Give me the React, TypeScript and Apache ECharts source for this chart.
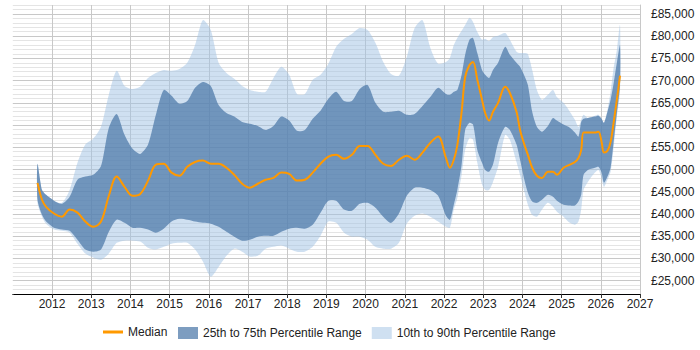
import React, { useEffect, useRef } from 'react';
import * as echarts from 'echarts';

const years = [2011.63, 2011.745, 2011.85, 2012.05, 2012.25, 2012.45, 2012.65, 2012.85, 2013.05, 2013.25, 2013.45, 2013.65, 2013.85, 2014.05, 2014.25, 2014.45, 2014.65, 2014.85, 2015.05, 2015.25, 2015.45, 2015.65, 2015.85, 2016.05, 2016.25, 2016.45, 2016.65, 2016.85, 2017.05, 2017.25, 2017.45, 2017.65, 2017.85, 2018.05, 2018.25, 2018.45, 2018.65, 2018.85, 2019.05, 2019.25, 2019.45, 2019.65, 2019.85, 2020.05, 2020.25, 2020.45, 2020.65, 2020.85, 2021.05, 2021.25, 2021.45, 2021.65, 2021.85, 2022.05, 2022.15, 2022.25, 2022.34, 2022.45, 2022.54, 2022.65, 2022.74, 2022.85, 2022.97, 2023.05, 2023.15, 2023.25, 2023.38, 2023.56, 2023.68, 2023.85, 2023.94, 2024.05, 2024.14, 2024.25, 2024.37, 2024.5, 2024.65, 2024.78, 2024.88, 2025.05, 2025.21, 2025.34, 2025.43, 2025.5, 2025.56, 2025.67, 2025.85, 2025.94, 2026.02, 2026.08, 2026.17, 2026.25, 2026.32, 2026.41, 2026.49];

const p90 = [51300, 45400, 44300, 43000, 42500, 45400, 51500, 55600, 56900, 59600, 66800, 72200, 68800, 68100, 68600, 70600, 71700, 72400, 72200, 72600, 74000, 78000, 83600, 81400, 74000, 71700, 70400, 68800, 67900, 67500, 67500, 70600, 73100, 71300, 67000, 67000, 70200, 71300, 73800, 77600, 79400, 80500, 81800, 81400, 78500, 74200, 71500, 71100, 75300, 81800, 83600, 77400, 73800, 74200, 75100, 78000, 79600, 81200, 82500, 84100, 83200, 80900, 79200, 79400, 78900, 79800, 80100, 80700, 79200, 76500, 76200, 76200, 76000, 72400, 67900, 65700, 66800, 67900, 66300, 65000, 63000, 61200, 59600, 61200, 62300, 61600, 62100, 62300, 61400, 60500, 63400, 67500, 72400, 76900, 82500];

const p75 = [51300, 45400, 44300, 43000, 42300, 43900, 47700, 48400, 48800, 50800, 59400, 62500, 57800, 54700, 53500, 55600, 62300, 67900, 66600, 64800, 65400, 68400, 69700, 68800, 64500, 62700, 61900, 60700, 60300, 59800, 58900, 59800, 61900, 61000, 58700, 58900, 61400, 63200, 65900, 67500, 65400, 65400, 68100, 69000, 65000, 63000, 63000, 63200, 62300, 62500, 64300, 66300, 68400, 67000, 66800, 67500, 67900, 71300, 75800, 79200, 79600, 76200, 72400, 71300, 70600, 72400, 74000, 77600, 75800, 74000, 73100, 71100, 69000, 63000, 59600, 58500, 59800, 61600, 61000, 60100, 59400, 58300, 57400, 60700, 61400, 61600, 61900, 62100, 61400, 60500, 63000, 65700, 69000, 74000, 78000];

const median = [47000, 43200, 41600, 40100, 39400, 41000, 40300, 38300, 37100, 38300, 44100, 48400, 46100, 44100, 44500, 47500, 51100, 51300, 49300, 48600, 50600, 51700, 52000, 51300, 51300, 50400, 48800, 46800, 45900, 46800, 47700, 48100, 49300, 49000, 47500, 47700, 49300, 51300, 52900, 53300, 52400, 53300, 55300, 55300, 53300, 51300, 50800, 52200, 53100, 52200, 53800, 56000, 57400, 52600, 50400, 52200, 55500, 63000, 70800, 73500, 74200, 70200, 65700, 62700, 61000, 63000, 65000, 68600, 67200, 63000, 58900, 55600, 53300, 50400, 48600, 48100, 49500, 49500, 48800, 50400, 51100, 51700, 52600, 54400, 58300, 58300, 58300, 58500, 56200, 53800, 54200, 56200, 60100, 65700, 71100];

const p25 = [43200, 39800, 38300, 36900, 36500, 36200, 34200, 32000, 31500, 32000, 36000, 38700, 38000, 36900, 36900, 36500, 35800, 36700, 38300, 38900, 38700, 38300, 38000, 37800, 37100, 36000, 34900, 34000, 34200, 34900, 35100, 35100, 36000, 36700, 36900, 36700, 37600, 40300, 43000, 43000, 41000, 40700, 42300, 42500, 41400, 39400, 38000, 40100, 44100, 45900, 45900, 45400, 44100, 39600, 38700, 42100, 45400, 51100, 58900, 60500, 60100, 54400, 51500, 49900, 49500, 51100, 56000, 59600, 58900, 55600, 52200, 47700, 44800, 42800, 42500, 43200, 44300, 43900, 43000, 42100, 41900, 41900, 42800, 44300, 48800, 49900, 50400, 50600, 49300, 47000, 48400, 50400, 55600, 62700, 69000];

const p10 = [42500, 39400, 37800, 36500, 36200, 35800, 33300, 31100, 30200, 29700, 31100, 33500, 34000, 34000, 33800, 32400, 32000, 32600, 33300, 33500, 33500, 32000, 29300, 25900, 28100, 30600, 32200, 31500, 30400, 30600, 32200, 32600, 32900, 32200, 31500, 31500, 32600, 35100, 38300, 38000, 35800, 34900, 34900, 34200, 32600, 32200, 32200, 33500, 37800, 39600, 40100, 39400, 38300, 37100, 36900, 41000, 43600, 48800, 54400, 57100, 56700, 51500, 46600, 45400, 45400, 47200, 50600, 57800, 56700, 51700, 48800, 45000, 42100, 39800, 39400, 41000, 42500, 41600, 40500, 39400, 38000, 37600, 38300, 41000, 45400, 47200, 49300, 49900, 48100, 46100, 47700, 49500, 54400, 61900, 67500];

const yearTicks = [2011, 2012, 2013, 2014, 2015, 2016, 2017, 2018, 2019, 2020, 2021, 2022, 2023, 2024, 2025, 2026, 2027];

const NAME_MED = 'Median';
const NAME_IQR = '25th to 75th Percentile Range';
const NAME_OUT = '10th to 90th Percentile Range';

const FONT = 'Liberation Sans, Arial, sans-serif';
const COLOR_OUT = 'rgba(160,194,228,0.5)';
const COLOR_IQR = 'rgba(75,119,168,0.72)';
const COLOR_MED = '#ff9900';

function money(v: number): string {
  return '£' + String(v).replace(/\B(?=(\d{3})+(?!\d))/g, ',');
}

function bandSeries(name: string, hi: number[], lo: number[], color: string) {
  return {
    name,
    type: 'custom',
    silent: true,
    itemStyle: { color },
    data: [[years[0], lo[0]]],
    renderItem: (_params: any, api: any) => {
      const upper = years.map((y, i) => api.coord([y, hi[i]]));
      const lower = years.map((y, i) => api.coord([y, lo[i]])).reverse();
      return {
        type: 'polygon',
        shape: { points: upper.concat(lower), smooth: 0.25 },
        style: { fill: color },
        silent: true,
      };
    },
  };
}

export default function App() {
  const ref = useRef<HTMLDivElement>(null);

  useEffect(() => {
    if (!ref.current) return;
    const chart = echarts.init(ref.current, undefined, { renderer: 'svg' });

    const xLineColors = yearTicks.map((_y, i) => (i === 0 ? 'rgba(0,0,0,0)' : '#c8c8c8'));
    const minor = '#e4e4e4';
    const major = '#c8c8c8';
    const legendText = { fontSize: 12, color: '#222', fontFamily: FONT };

    chart.setOption({
      animation: false,
      grid: { left: 12.8, right: 60, top: 5, bottom: 56, containLabel: false },
      legend: [
        {
          left: 103,
          top: 326,
          padding: 0,
          itemWidth: 20,
          itemHeight: 3,
          icon: 'rect',
          textStyle: legendText,
          data: [{ name: NAME_MED, icon: 'rect', itemStyle: { color: COLOR_MED } }],
        },
        {
          left: 178,
          top: 327,
          padding: 0,
          itemWidth: 20,
          itemHeight: 12,
          itemGap: 10,
          textStyle: legendText,
          data: [
            { name: NAME_IQR, icon: 'rect' },
            { name: NAME_OUT, icon: 'rect' },
          ],
        },
      ],
      graphic: [
        { type: 'rect', left: 10, top: 295, shape: { width: 4, height: 6 }, style: { fill: '#fff' }, silent: true, z: 100 },
      ],
      xAxis: {
        type: 'value',
        min: 2011,
        max: 2027,
        interval: 1,
        axisLine: { show: true, onZero: false, lineStyle: { color: '#000', width: 1 } },
        axisTick: { show: true, length: 4, lineStyle: { color: '#333' } },
        axisLabel: {
          margin: 4,
          fontSize: 12,
          color: '#222',
          fontFamily: FONT,
          formatter: (v: number) => (v === 2011 ? '' : String(v)),
        },
        splitLine: { show: true, lineStyle: { color: xLineColors, width: 1 } },
      },
      yAxis: {
        type: 'value',
        position: 'right',
        min: 22000,
        max: 87000,
        interval: 1000,
        axisLine: { show: true, lineStyle: { color: '#c8c8c8' } },
        axisTick: { show: false },
        axisLabel: {
          margin: 11,
          fontSize: 12,
          color: '#222',
          fontFamily: FONT,
          formatter: (v: number) => (v % 5000 === 0 ? money(v) : ''),
        },
        splitLine: { show: true, lineStyle: { color: [minor, minor, minor, major, minor], width: 1 } },
      },
      series: [
        bandSeries(NAME_OUT, p90, p10, COLOR_OUT),
        bandSeries(NAME_IQR, p75, p25, COLOR_IQR),
        {
          name: NAME_MED,
          type: 'line',
          data: years.map((y, i) => [y, median[i]]),
          symbol: 'none',
          smooth: 0.35,
          silent: true,
          z: 5,
          itemStyle: { color: COLOR_MED },
          lineStyle: { color: COLOR_MED, width: 2 },
        },
      ],
    });

    return () => chart.dispose();
  }, []);

  return (
    <div
      ref={ref}
      style={{ position: 'fixed', left: 0, top: 0, width: 700, height: 350, background: '#fff' }}
    />
  );
}
